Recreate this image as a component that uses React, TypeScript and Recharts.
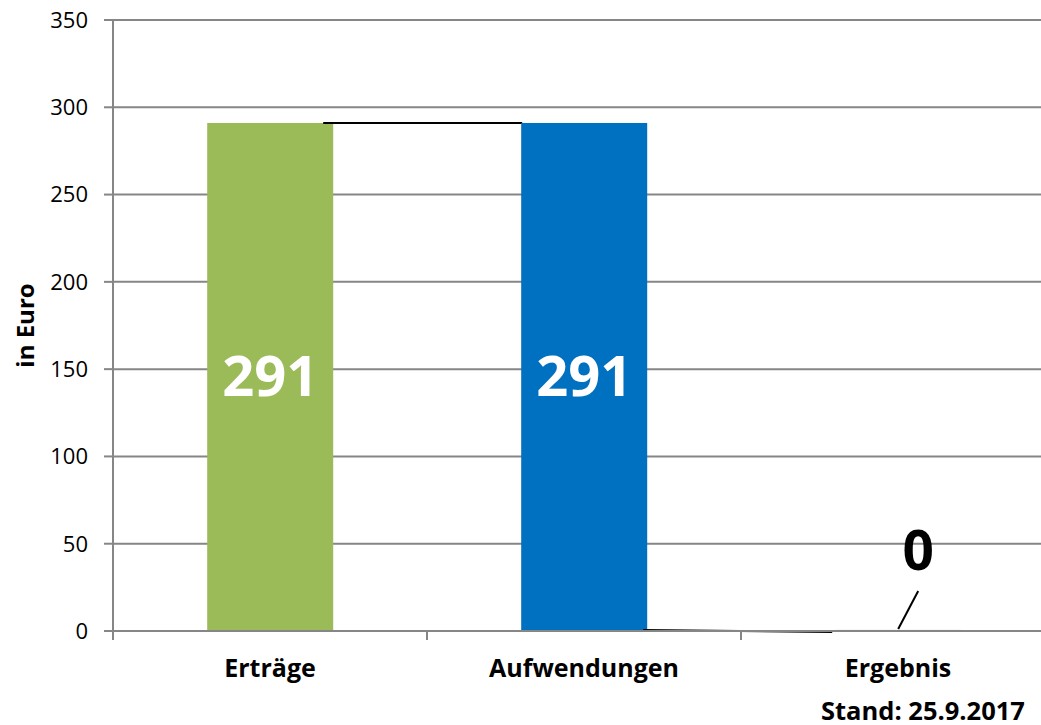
import React from 'react';
import { BarChart, Bar, XAxis, YAxis, CartesianGrid, LabelList } from 'recharts';

const categories = ['Erträge', 'Aufwendungen', 'Ergebnis'];
const values = [291, 291, 0.6];
const valueLabels = ['291', '291', '0'];
const barColors = ['#9BBB59', '#0070C0', '#0070C0'];
const yTicks = [0, 50, 100, 150, 200, 250, 300, 350];
const connectorFrom = ['top', 'bottom', null];
const footnote = 'Stand: 25.9.2017';
const yLabel = 'in Euro';

const data = categories.map((c, i) => ({
  name: c,
  value: values[i],
  label: valueLabels[i],
  color: barColors[i],
  connect: connectorFrom[i],
}));

const FONT = '"Open Sans", sans-serif';
const GRID = '#868686';
const GAP_PCT = 0.3;

const BarShape = (props: any) => {
  const { x, y, width, height, payload } = props;
  const gapW = (width / (1 - 2 * GAP_PCT)) * (2 * GAP_PCT);
  let connector = null;
  if (payload.connect === 'top') {
    connector = <line x1={x + width - 10} y1={y} x2={x + width + gapW} y2={y} stroke="#000" strokeWidth={2} />;
  } else if (payload.connect === 'bottom') {
    const yb = y + height;
    connector = <line x1={x + width - 4} y1={yb - 1} x2={x + width + gapW - 4} y2={yb + 1} stroke="#000" strokeWidth={2} />;
  }
  return (
    <g>
      <rect x={x} y={y} width={width} height={Math.max(height, 0)} fill={payload.color} />
      {connector}
    </g>
  );
};

const ValueLabel = (props: any) => {
  const { x, y, width, height, index } = props;
  const cx = x + width / 2;
  if (index === 2) {
    return (
      <g>
        <line x1={cx} y1={y - 1} x2={cx + 20} y2={y - 39} stroke="#000" strokeWidth={2} />
        <text x={cx + 20} y={y - 60} textAnchor="middle" fontFamily={FONT} fontWeight={700} fontSize={55} fill="#000">
          {valueLabels[index]}
        </text>
      </g>
    );
  }
  return (
    <text x={cx} y={y + height / 2 + 19} textAnchor="middle" fontFamily={FONT} fontWeight={700} fontSize={56} fill="#fff">
      {valueLabels[index]}
    </text>
  );
};

const XTick = (props: any) => {
  const { x, y, payload } = props;
  const off = payload && typeof payload.offset === 'number' ? payload.offset : 157;
  const axisY = y - 9 - 19;
  return (
    <g>
      <line x1={x - off} y1={axisY} x2={x - off} y2={axisY + 9} stroke={GRID} strokeWidth={2} />
      <text x={x} y={y} dy="0.71em" textAnchor="middle" fontFamily={FONT} fontWeight={700} fontSize={25} fill="#000">
        {payload.value}
      </text>
    </g>
  );
};

const YLabel = (props: any) => {
  const vb = props.viewBox || { x: 0, y: 20, width: 113, height: 611 };
  const cy = vb.y + vb.height / 2;
  return (
    <text x={24} y={cy} transform={`rotate(-90, 24, ${cy})`} textAnchor="middle" dominantBaseline="central" fontFamily={FONT} fontWeight={700} fontSize={24} fill="#000">
      {yLabel}
    </text>
  );
};

export default function App() {
  return (
    <div style={{ position: 'absolute', left: 0, top: 0, width: 1041, height: 725, overflow: 'hidden', background: '#fff' }}>
      <BarChart width={1060} height={725} data={data} margin={{ top: 20, right: 5, left: 0, bottom: 0 }} barCategoryGap="30%">
        <CartesianGrid vertical={false} stroke={GRID} strokeWidth={2} />
        <XAxis
          dataKey="name"
          height={94}
          axisLine={{ stroke: GRID, strokeWidth: 2 }}
          tickLine={false}
          tickSize={9}
          tickMargin={19}
          tick={<XTick />}
          interval={0}
        />
        <YAxis
          width={113}
          domain={[0, 350]}
          ticks={yTicks}
          interval={0}
          axisLine={{ stroke: GRID, strokeWidth: 2 }}
          tickLine={{ stroke: GRID, strokeWidth: 2 }}
          tickSize={9}
          tickMargin={16}
          tick={{ fill: '#000', fontSize: 22, fontFamily: FONT }}
          label={<YLabel />}
        />
        <Bar dataKey="value" isAnimationActive={false} shape={<BarShape />}>
          <LabelList dataKey="label" content={<ValueLabel />} />
        </Bar>
      </BarChart>
      <div style={{ position: 'absolute', left: 821, top: 698, fontFamily: FONT, fontWeight: 700, fontSize: 25.5, color: '#000', whiteSpace: 'nowrap', lineHeight: '24px' }}>
        {footnote}
      </div>
    </div>
  );
}
